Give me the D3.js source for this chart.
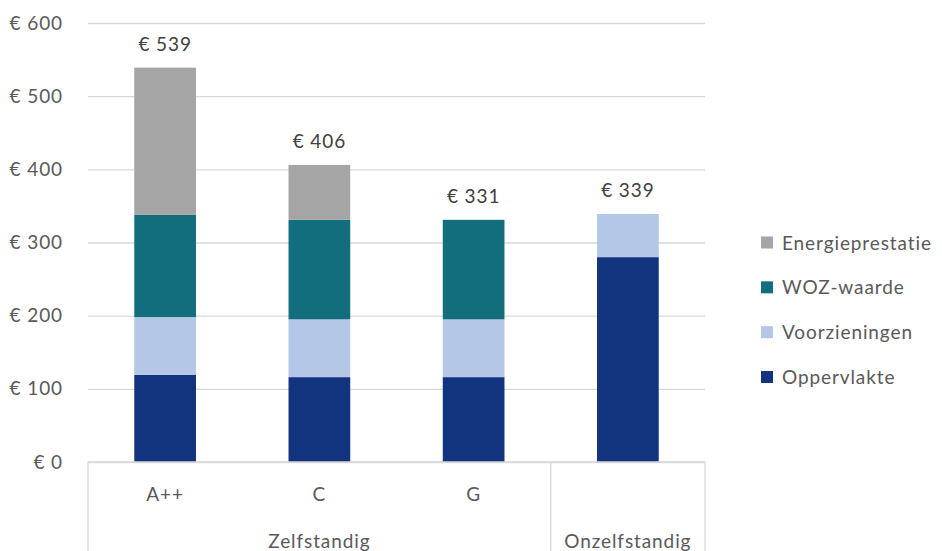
<!DOCTYPE html>
<html>
<head>
<meta charset="utf-8">
<script src="https://cdn.jsdelivr.net/npm/d3@7"></script>
<style>
  body { margin: 0; background: #fff; }
  svg { display: block; }
</style>
</head>
<body>
<svg></svg>
<script>
const WIDTH = 942;
const HEIGHT = 551;
const PADDING_TOP = 23;
const PADDING_LEFT = 88;
const PLOT_RIGHT = 705;
const PLOT_BOTTOM = 462;
const FONT = 'Lato, "Open Sans", sans-serif';
const FONT_SIZE = '19px';
const SPACING = '0.9px';

// data
const categories = ['A++', 'C', 'G', 'Onzelfstandig'];
const groups = [
  { name: 'Zelfstandig', from: 0, to: 2 },
  { name: 'Onzelfstandig', from: 3, to: 3 }
];
const subLabels = ['A++', 'C', 'G', ''];
const seriesNames = ['Oppervlakte', 'Voorzieningen', 'WOZ-waarde', 'Energieprestatie'];
const oppervlakte = [119, 116, 116, 280];
const voorzieningen = [79, 79, 79, 59];
const wozWaarde = [140, 136, 136, 0];
const energieprestatie = [201, 75, 0, 0];
const totals = [539, 406, 331, 339];
const yTicks = [0, 100, 200, 300, 400, 500, 600];

const colors = ['#12347e', '#b4c7e7', '#126d7d', '#a5a5a5'];
const textColor = '#595959';

const svg = d3.select('svg')
  .attr('width', WIDTH)
  .attr('height', HEIGHT)
  .attr('font-family', FONT);

const x = d3.scaleBand()
  .domain(categories)
  .range([PADDING_LEFT, PLOT_RIGHT])
  .paddingInner(0.6)
  .paddingOuter(0.3);

const y = d3.scaleLinear()
  .domain([0, 600])
  .range([PLOT_BOTTOM, PADDING_TOP]);

// gridlines + y labels
const yAxis = d3.axisLeft(y)
  .tickValues(yTicks)
  .tickSize(-(PLOT_RIGHT - PADDING_LEFT))
  .tickPadding(25)
  .tickFormat(d => `€ ${d}`);

const yG = svg.append('g')
  .attr('transform', `translate(${PADDING_LEFT},0)`)
  .call(yAxis);
yG.select('.domain').remove();
yG.selectAll('line').attr('stroke', '#d9d9d9').attr('stroke-width', 1.3);
yG.selectAll('text')
  .attr('fill', textColor)
  .attr('font-size', FONT_SIZE)
  .attr('letter-spacing', SPACING)
  .attr('font-family', FONT);

// stacked bars
const rows = categories.map((c, i) => ({
  cat: c,
  Oppervlakte: oppervlakte[i],
  Voorzieningen: voorzieningen[i],
  'WOZ-waarde': wozWaarde[i],
  Energieprestatie: energieprestatie[i]
}));

const stacked = d3.stack().keys(seriesNames)(rows);

svg.append('g')
  .selectAll('g')
  .data(stacked)
  .join('g')
  .attr('fill', (d, i) => colors[i])
  .selectAll('rect')
  .data(d => d.filter(s => s[1] > s[0]))
  .join('rect')
  .attr('x', d => x(d.data.cat))
  .attr('width', x.bandwidth())
  .attr('y', d => y(d[1]))
  .attr('height', d => y(d[0]) - y(d[1]));

// total labels
svg.append('g')
  .selectAll('text')
  .data(categories)
  .join('text')
  .attr('x', d => x(d) + x.bandwidth() / 2)
  .attr('y', (d, i) => y(d3.sum(stacked, s => s[i][1] - s[i][0])) - 17)
  .attr('text-anchor', 'middle')
  .attr('font-size', FONT_SIZE)
  .attr('letter-spacing', SPACING)
  .attr('fill', '#404040')
  .text((d, i) => `€ ${totals[i]}`);

// x axis with grouped categories
const axisG = svg.append('g').attr('stroke', '#d9d9d9').attr('stroke-width', 1.3);
axisG.append('line')
  .attr('x1', PADDING_LEFT).attr('x2', PLOT_RIGHT)
  .attr('y1', PLOT_BOTTOM).attr('y2', PLOT_BOTTOM);

const edges = [PADDING_LEFT, (x(categories[2]) + x(categories[3]) + x.bandwidth()) / 2, PLOT_RIGHT];
axisG.selectAll('line.sep')
  .data(edges)
  .join('line')
  .attr('class', 'sep')
  .attr('x1', d => d).attr('x2', d => d)
  .attr('y1', PLOT_BOTTOM).attr('y2', HEIGHT);

svg.append('g')
  .selectAll('text')
  .data(subLabels)
  .join('text')
  .attr('x', (d, i) => x(categories[i]) + x.bandwidth() / 2)
  .attr('y', 501)
  .attr('text-anchor', 'middle')
  .attr('font-size', FONT_SIZE)
  .attr('letter-spacing', SPACING)
  .attr('fill', textColor)
  .text(d => d);

svg.append('g')
  .selectAll('text')
  .data(groups)
  .join('text')
  .attr('x', (d, i) => (edges[i] + edges[i + 1]) / 2)
  .attr('y', 548)
  .attr('text-anchor', 'middle')
  .attr('font-size', FONT_SIZE)
  .attr('letter-spacing', SPACING)
  .attr('fill', textColor)
  .text(d => d.name);

// legend (reverse order)
const legendItems = seriesNames.map((n, i) => ({ name: n, color: colors[i] })).reverse();
const legend = svg.append('g').attr('transform', 'translate(761,0)');
const ly = d3.scalePoint().domain(legendItems.map(d => d.name)).range([242.5, 377]);

legend.selectAll('rect')
  .data(legendItems)
  .join('rect')
  .attr('x', 0)
  .attr('y', d => ly(d.name) - 6)
  .attr('width', 12)
  .attr('height', 12)
  .attr('fill', d => d.color);

legend.selectAll('text')
  .data(legendItems)
  .join('text')
  .attr('x', 21)
  .attr('y', d => ly(d.name) + 7)
  .attr('font-size', FONT_SIZE)
  .attr('letter-spacing', SPACING)
  .attr('fill', textColor)
  .text(d => d.name);
</script>
</body>
</html>
